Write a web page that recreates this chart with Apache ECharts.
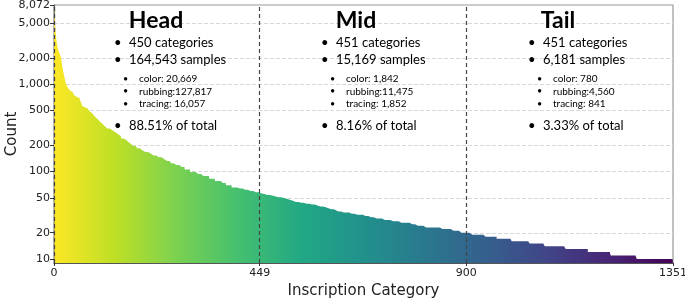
<!DOCTYPE html>
<html>
<head>
<meta charset="utf-8">
<script src="https://cdn.jsdelivr.net/npm/echarts@6/dist/echarts.min.js"></script>
<style>
html,body{margin:0;padding:0;background:#fff}
#main{width:685px;height:300px}
</style>
</head>
<body>
<div id="main"></div>
<script>
// sample count per inscription category, sorted high to low.
// stored as runs: a count and how many categories share it
var headValues = [8072,6300,5100,4300,3650,3300,3050,2800,2650,2500,
  2400,2330,2260,2190,2110,2040,1900,1750,1620,1510,
  1410,1330,1260,1190,1120,1070,1020,990,960,
  930,900,875,850,820,790,750,720,700,675,620,565,
  545,530,515,495,470,445,420,395,370,350,330,
  312,296,282,268,255,240,228,217,207,197,185,176,168,
  161,153,146,139,132,125,119,113,106,99,94,89,83,78,74,70,66,64,62,60,58];
var headRuns = [1,1,1,1,1,1,1,1,1,1,
  1,1,1,1,1,1,1,1,1,1,
  1,1,1,1,1,1,1,1,1,
  2,2,2,3,3,3,3,4,4,4,3,3,
  4,4,4,4,5,5,5,5,5,5,5,
  6,6,6,6,6,6,7,7,7,8,8,8,8,
  10,10,10,10,10,10,10,10,12,14,15,13,12,12,12,13,12,13,12,13,12];
var midValues = [57,56,55,54,53,52,51,50,49,48,47,46,45,44,43,42,41,40,39,38,
  37,36,35,34,33,32,31,30,29,28,27,26,25,24,23,22,21,20];
var midRuns = [4,5,6,7,8,8,8,8,7,5,5,5,9,10,12,12,10,8,8,8,
  9,9,11,16,12,14,12,16,18,14,20,22,16,18,36,20,19,16];
var tailValues = [20,19,18,17,16,15,14,13,12,11,10];
var tailRuns = [6,35,24,33,39,33,46,48,50,57,80];

var yTicks = [10,20,50,100,200,500,1000,2000,5000,8072];
var xTicks = [0,449,900,1351];
var splitAt = [0,449,900];

var sectionNames = ['Head','Mid','Tail'];
var sectionCats = ['450 categories','451 categories','451 categories'];
var sectionSamples = ['164,543 samples','15,169 samples','6,181 samples'];
var sectionColor = ['color: 20,669','color: 1,842','color: 780'];
var sectionRubbing = ['rubbing:127,817','rubbing:11,475','rubbing:4,560'];
var sectionTracing = ['tracing: 16,057','tracing: 1,852','tracing: 841'];
var sectionShare = ['88.51% of total','8.16% of total','3.33% of total'];

var yMin = 9, yMax = 8072;

function expand(values, runs){
  var out = [];
  for (var k = 0; k < values.length; k++) {
    for (var n = 0; n < runs[k]; n++) out.push(values[k]);
  }
  return out;
}
var counts = expand(headValues, headRuns)
  .concat(expand(midValues, midRuns))
  .concat(expand(tailValues, tailRuns));

// y is drawn on log10 of the count so the odd tick set (…2000, 5000, 8072) can be placed
var lg = function(v){ return Math.log10(v); };
var points = counts.map(function(v, i){ return [i, lg(v)]; });

// viridis, reversed (yellow first)
var viridis = ['#fde725','#bddf26','#7ad151','#44bf70','#22a884','#21918c',
  '#2a788e','#355f8d','#414487','#482475','#440154'];
var stops = viridis.map(function(c, k){ return {offset: k / (viridis.length - 1), color: c}; });

var FONT = 'Lato';
var graphics = [];
var textX = [129, 336, 543];
var titleX = [156, 356, 558];
function txt(x, y, s, size, weight, align){
  graphics.push({
    type: 'text', x: x, y: y, silent: true, z: 100,
    style: {
      text: s, fill: '#000',
      font: (weight || 'normal') + ' ' + size + 'px ' + FONT,
      align: align || 'left', verticalAlign: 'middle',
      textAlign: align || 'left', textVerticalAlign: 'middle'
    }
  });
}
for (var s = 0; s < 3; s++) {
  var tx = textX[s];
  txt(titleX[s], 21, sectionNames[s], 23, 'bold', 'center');
  txt(tx - 15, 43, '\u2022', 13);
  txt(tx, 43, sectionCats[s], 13);
  txt(tx - 15, 60, '\u2022', 13);
  txt(tx, 60, sectionSamples[s], 13);
  var subs = [sectionColor[s], sectionRubbing[s], sectionTracing[s]];
  for (var j = 0; j < 3; j++) {
    txt(tx - 6, 79 + j * 12.5, '\u2022', 9);
    txt(tx + 10, 79 + j * 12.5, subs[j], 10);
  }
  txt(tx - 15, 126, '\u2022', 13);
  txt(tx, 126, sectionShare[s], 13);
}

var myChart = echarts.init(document.getElementById('main'));
var option = {
  animation: false,
  grid: {left: 54, right: 12, top: 5, bottom: 37, containLabel: false, outerBoundsMode: 'none',
    show: true, borderColor: '#999', borderWidth: 1.2},
  xAxis: {
    type: 'value', min: 0, max: 1351,
    name: 'Inscription Category', nameLocation: 'middle', nameGap: 19,
    nameTextStyle: {fontFamily: 'DejaVu Sans', fontSize: 15, color: '#222'},
    axisLine: {show: true, lineStyle: {color: '#555', width: 1.2}},
    axisTick: {show: true, length: 3, customValues: xTicks, lineStyle: {color: '#333'}},
    axisLabel: {customValues: xTicks, fontFamily: 'DejaVu Sans', fontSize: 11, color: '#222', margin: 5,
      formatter: function(v){ return String(v); }},
    splitLine: {show: false}
  },
  yAxis: {
    type: 'value', min: lg(yMin), max: lg(yMax),
    name: 'Count', nameLocation: 'middle', nameGap: 34, nameMoveOverlap: false,
    nameTextStyle: {fontFamily: 'DejaVu Sans', fontSize: 15, color: '#222'},
    axisLine: {show: true, lineStyle: {color: '#555', width: 1.2}},
    axisTick: {show: true, length: 4, customValues: yTicks.map(lg), lineStyle: {color: '#333'}},
    axisLabel: {
      customValues: yTicks.map(lg), fontFamily: 'DejaVu Sans', fontSize: 11, color: '#222', margin: 4,
      formatter: function(v){ return Math.round(Math.pow(10, v)).toLocaleString('en-US'); }
    },
    splitLine: {show: false}
  },
  graphic: graphics,
  series: [
    {
      // horizontal grid lines, behind the bars
      type: 'line', data: [], z: 1,
      markLine: {
        silent: true, symbol: 'none', z: 1, label: {show: false},
        lineStyle: {color: '#d8d8d8', type: [4, 2], width: 1},
        data: yTicks.slice(0, -1).map(function(v){ return {yAxis: lg(v)}; })
      }
    },
    {
      type: 'line', data: points, step: 'end', z: 3,
      showSymbol: false, symbol: 'none',
      lineStyle: {width: 0},
      areaStyle: {origin: 'start', opacity: 1,
        color: new echarts.graphic.LinearGradient(0, 0, 1, 0, stops)},
      markLine: {
        silent: true, symbol: 'none', z: 5, label: {show: false},
        lineStyle: {color: '#444', type: [4, 3], width: 1.2},
        data: splitAt.map(function(v){ return {xAxis: v}; })
      }
    }
  ]
};
myChart.setOption(option);
</script>
</body>
</html>
